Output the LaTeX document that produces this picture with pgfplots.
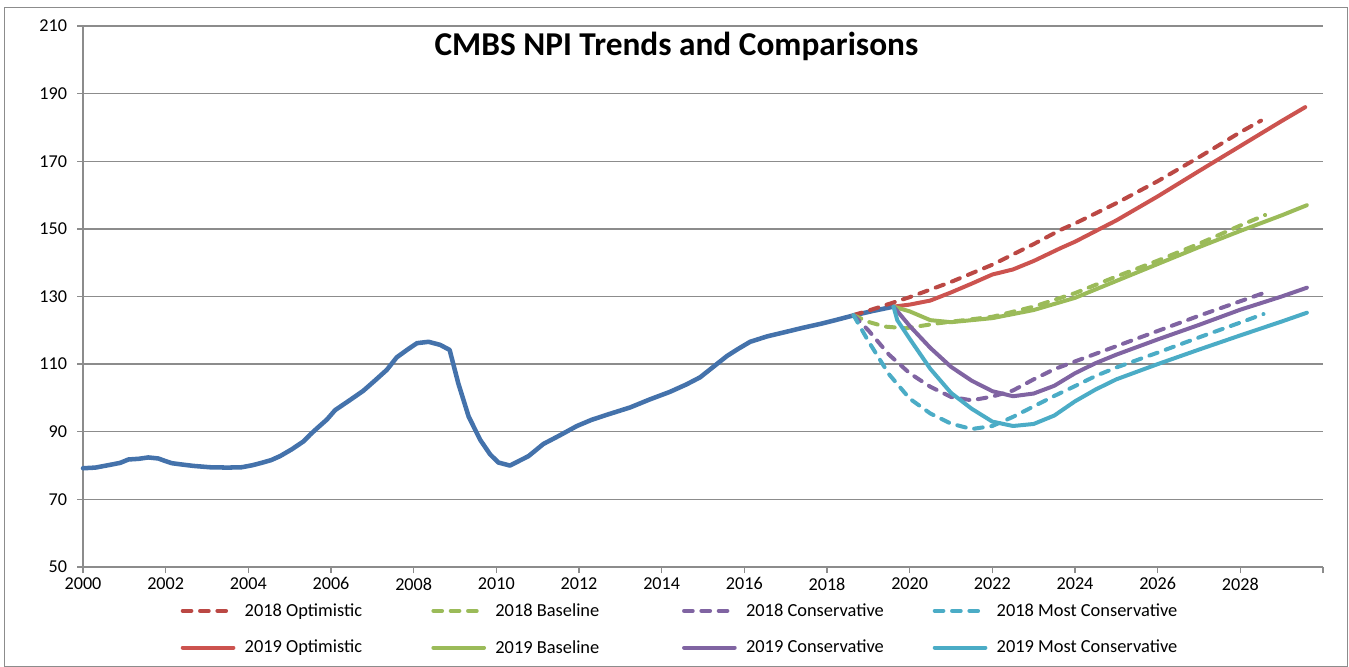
\documentclass[border=0pt]{standalone}
\usepackage{pgfplots}
\pgfplotsset{compat=1.18}
\usepackage{fontspec}
\setmainfont{Carlito}
\definecolor{histblue}{HTML}{4472AB}
\definecolor{reddash}{HTML}{BB4844}
\definecolor{redsolid}{HTML}{CC534F}
\definecolor{xgreen}{HTML}{9BBB59}
\definecolor{xpurple}{HTML}{8064A2}
\definecolor{xcyan}{HTML}{4BACC6}
\definecolor{gridgray}{HTML}{8C8C8C}
\definecolor{framegray}{HTML}{8C8C8C}
\newcommand{\lt}[1]{\makebox[138pt][l]{#1}}
\begin{document}
\begin{tikzpicture}
\useasboundingbox (-62.25pt,-75pt) rectangle (949.5pt,425.25pt);
\draw[framegray, line width=0.75pt] (-58.5pt,419.25pt) rectangle (948pt,-74.5pt);
\begin{axis}[
  at={(0,0)}, anchor=south west,
  scale only axis, width=930pt, height=405.75pt,
  xmin=2000, xmax=2030, ymin=50, ymax=210,
  xtick={2000,2002,...,2030},
  xticklabels={2000,2002,2004,2006,2008,2010,2012,2014,2016,2018,2020,2022,2024,2026,2028,{}},
  ytick={50,70,...,210},
  ymajorgrids,
  major grid style={draw=gridgray, line width=1pt},
  axis x line*=bottom, axis y line*=left,
  axis line style={draw=gridgray, line width=1pt, -},
  tick style={draw=gridgray, line width=1pt},
  tick align=outside, major tick length=4.5pt,
  tick label style={font=\fontsize{13.6}{15}\selectfont},
  yticklabel style={xshift=-4pt},
  /pgf/number format/assume math mode=true,
  clip=false,
  legend columns=4,
  legend cell align=left,
  legend style={at={(rel axis cs:0.0786,-0.062)}, anchor=north west,
    draw=none, fill=none, inner sep=0pt, font=\fontsize{13.8}{15}\selectfont,
    row sep=12.5pt,
    /tikz/every odd column/.append style={column sep=5pt}},
  legend image code/.code={\draw[#1] (0pt,0pt) -- (38pt,0pt);},
  every axis plot/.append style={line join=round, line cap=round},
]
\addplot[histblue, line width=3.4pt, forget plot] coordinates {
(2000.0,79.2) (2000.3,79.4) (2000.65,80.2) (2000.9,80.8) (2001.1,81.8) (2001.35,82.0)
(2001.58,82.4) (2001.82,82.1) (2002.0,81.3) (2002.15,80.7) (2002.4,80.3) (2002.67,79.9)
(2003.07,79.5) (2003.5,79.4) (2003.84,79.5) (2004.1,80.1) (2004.32,80.8) (2004.55,81.6)
(2004.77,82.8) (2005.05,84.8) (2005.33,87.1) (2005.5,89.2) (2005.66,91.0) (2005.9,93.6)
(2006.1,96.4) (2006.45,99.3) (2006.78,102.1) (2007.05,105.0) (2007.35,108.3) (2007.59,112.0)
(2007.85,114.3) (2008.08,116.2) (2008.36,116.6) (2008.64,115.7) (2008.87,114.2) (2009.08,104.3)
(2009.33,94.5) (2009.61,87.6) (2009.85,83.3) (2010.05,80.9) (2010.33,80.0) (2010.78,82.8)
(2011.14,86.4) (2011.5,88.7) (2011.95,91.7) (2012.3,93.5) (2012.67,95.0) (2013.24,97.2)
(2013.7,99.5) (2014.2,101.8) (2014.6,104.0) (2014.93,106.1) (2015.25,109.2) (2015.58,112.4)
(2015.85,114.5) (2016.14,116.6) (2016.55,118.2) (2017.03,119.6) (2017.4,120.7) (2017.84,121.9)
(2018.2,123.0) (2018.64,124.4) (2019.1,125.7) (2019.61,127.0)
};
% 2018 scenarios (dashed)
\addplot[reddash, line width=3pt, dash pattern=on 6.5pt off 6.5pt] coordinates {
(2018.64,124.5) (2019,125.8) (2020,129.8) (2021,134.3) (2022,139.4) (2023,145.5)
(2023.65,149.7) (2024,151.6) (2025,157.6) (2026,164.1) (2027,171.2) (2028,178.6) (2028.5,182)
};
\addlegendentry{\lt{2018 Optimistic}}
\addplot[xgreen, line width=3pt, dash pattern=on 6.5pt off 6.5pt] coordinates {
(2018.64,124.5) (2019,122.5) (2019.4,121.1) (2019.9,120.6) (2020.7,122.1) (2022,124.0)
(2023,127.0) (2024,131.0) (2025,135.9) (2026,140.6) (2027,145.6) (2028,151.0) (2028.6,154.1)
};
\addlegendentry{\lt{2018 Baseline}}
\addplot[xpurple, line width=3pt, dash pattern=on 6.5pt off 6.5pt] coordinates {
(2018.64,124.5) (2019,120.0) (2019.5,112.8) (2020,107.3) (2020.5,103.3) (2021,100.3)
(2021.5,99.3) (2022,100.4) (2022.5,102.2) (2023,105.5) (2023.5,108.5) (2024,110.8)
(2025,115.3) (2026,119.8) (2027,124.3) (2028,128.6) (2028.56,131.0)
};
\addlegendentry{\lt{2018 Conservative}}
\addplot[xcyan, line width=3pt, dash pattern=on 6.5pt off 6.5pt] coordinates {
(2018.64,124.5) (2019,116.8) (2019.5,107.0) (2020,99.8) (2020.5,95.4) (2021,92.4)
(2021.5,90.8) (2022,91.7) (2022.5,94.4) (2023,97.5) (2023.5,100.6) (2024,103.5)
(2024.5,106.5) (2025,109.0) (2026,113.4) (2027,117.9) (2028,122.3) (2028.56,124.8)
};
\addlegendentry{\lt{2018 Most Conservative}}
% 2019 scenarios (solid)
\addplot[redsolid, line width=3pt] coordinates {
(2019.61,127.0) (2020,127.6) (2020.5,128.8) (2021,131.2) (2021.5,133.8) (2022,136.5)
(2022.5,138.0) (2023,140.5) (2023.65,144.3) (2024,146.2) (2025,152.5) (2026,159.6)
(2027,167.1) (2028,174.5) (2029,181.9) (2029.57,186.0)
};
\addlegendentry{\lt{2019 Optimistic}}
\addplot[xgreen, line width=3pt] coordinates {
(2019.61,127.0) (2020,125.6) (2020.5,123.0) (2021,122.4) (2022,123.6) (2023,126.0)
(2024,129.6) (2025,134.6) (2026,139.6) (2027,144.6) (2028,149.4) (2029,154.0) (2029.61,157.0)
};
\addlegendentry{\lt{2019 Baseline}}
\addplot[xpurple, line width=3pt] coordinates {
(2019.61,127.0) (2020,121.3) (2020.5,114.8) (2021,109.2) (2021.5,105.1) (2022,102.0)
(2022.5,100.5) (2023,101.3) (2023.5,103.6) (2024,107.3) (2024.5,110.3) (2025,112.8)
(2026,117.3) (2027,121.6) (2028,126.1) (2029,130.0) (2029.61,132.6)
};
\addlegendentry{\lt{2019 Conservative}}
\addplot[xcyan, line width=3pt] coordinates {
(2019.61,127.0) (2019.7,123.0) (2020,117.5) (2020.5,108.6) (2021,101.5) (2021.5,96.8)
(2022,93.0) (2022.5,91.7) (2023,92.3) (2023.5,94.8) (2024,99.0) (2024.5,102.5)
(2025,105.5) (2026,110.0) (2027,114.3) (2028,118.5) (2029,122.6) (2029.61,125.2)
};
\addlegendentry{\lt{2019 Most Conservative}}
\node[font=\fontsize{25}{29}\selectfont\bfseries, anchor=center] at (rel axis cs:0.4786,0.962) {CMBS NPI Trends and Comparisons};
\end{axis}
\end{tikzpicture}
\end{document}
